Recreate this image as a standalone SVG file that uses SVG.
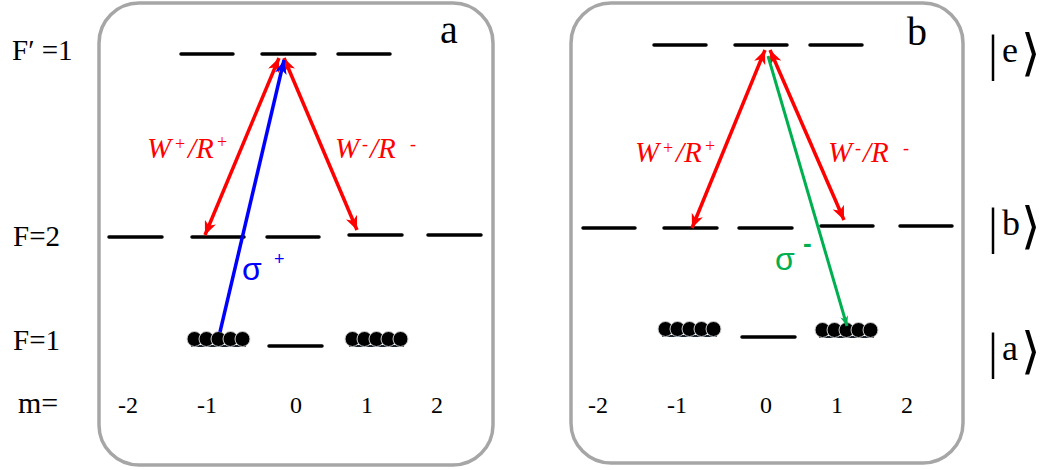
<svg xmlns="http://www.w3.org/2000/svg" width="1045" height="470" viewBox="0 0 1045 470">
<defs>
<style>
.panel{fill:#fff;stroke:#a6a6a6;stroke-width:3.5}
.lvl{stroke:#000;stroke-width:3.5;stroke-linecap:round}
.red{stroke:#ff0000;stroke-width:3.5;fill:none}
.blue{stroke:#0000ff;stroke-width:3.5;fill:none}
.green{stroke:#00b050;stroke-width:3;fill:none}
.atom{fill:#000;stroke:#d0d0d0;stroke-width:1}
.ul{stroke:#1a2530;stroke-width:2}
</style>
<marker id="hr" viewBox="0 0 14 12" refX="14" refY="6" markerWidth="14" markerHeight="12" markerUnits="userSpaceOnUse" orient="auto-start-reverse">
<path d="M0,0 L14,6 L0,12 L4,6 z" fill="#ff0000"/>
</marker>
<marker id="hb" viewBox="0 0 14 12" refX="14" refY="6" markerWidth="14" markerHeight="12" markerUnits="userSpaceOnUse" orient="auto">
<path d="M0,0 L14,6 L0,12 L4,6 z" fill="#0000ff"/>
</marker>
<marker id="hg" viewBox="0 0 10 8" refX="10" refY="4" markerWidth="10" markerHeight="8" markerUnits="userSpaceOnUse" orient="auto">
<path d="M0,0 L10,4 L0,8 L3,4 z" fill="#00b050"/>
</marker>
<g id="atoms">
<line class="ul" x1="4" y1="7" x2="59" y2="7"/>
<circle class="atom" cx="7.5" cy="0" r="7.5"/>
<circle class="atom" cx="19.5" cy="0" r="7.5"/>
<circle class="atom" cx="31.5" cy="0" r="7.5"/>
<circle class="atom" cx="43.5" cy="0" r="7.5"/>
<circle class="atom" cx="55.5" cy="0" r="7.5"/>
</g>
</defs>

<!-- Left side labels -->
<g id="labels-left" font-family="Liberation Serif, serif" fill="#000">
<text x="12" y="60" font-size="29">F′ =1</text>
<text x="13" y="246" font-size="29">F=2</text>
<text x="13" y="350" font-size="29">F=1</text>
<text x="18" y="413" font-size="30">m=</text>
</g>

<!-- Panel a -->
<g id="panel-a">
<rect class="panel" x="99" y="3" width="394" height="462" rx="40"/>
<text font-family="Liberation Serif, serif" x="440" y="43" font-size="40">a</text>
<g id="a-excited">
<line class="lvl" x1="181" y1="54" x2="233" y2="54"/>
<line class="lvl" x1="262" y1="54" x2="315" y2="54"/>
<line class="lvl" x1="338" y1="54" x2="390" y2="54"/>
</g>
<g id="a-F2">
<line class="lvl" x1="109" y1="237" x2="162" y2="237"/>
<line class="lvl" x1="192" y1="237" x2="244" y2="237"/>
<line class="lvl" x1="267" y1="237" x2="319" y2="237"/>
<line class="lvl" x1="349" y1="235" x2="402" y2="235"/>
<line class="lvl" x1="428" y1="235" x2="481" y2="235"/>
</g>
<g id="a-F1">
<use href="#atoms" x="187" y="339"/>
<line class="lvl" x1="269" y1="346" x2="322" y2="346"/>
<use href="#atoms" x="345" y="339"/>
</g>
<g id="a-m" font-family="Liberation Serif, serif" font-size="24">
<text x="118" y="413">-2</text>
<text x="197" y="413">-1</text>
<text x="290" y="413">0</text>
<text x="361" y="413">1</text>
<text x="431" y="413">2</text>
</g>
<g font-family="Liberation Serif, serif" fill="#ff0000" font-size="29" font-style="italic">
<text y="158"><tspan x="147">W</tspan><tspan font-style="normal" font-size="18" x="175" y="150">+</tspan><tspan x="188" y="158">/R</tspan><tspan font-style="normal" font-size="18" x="217" y="148">+</tspan></text>
<text y="158"><tspan x="335">W</tspan><tspan font-style="normal" font-size="18" x="362" y="150">-</tspan><tspan x="370" y="158">/R</tspan><tspan font-style="normal" font-size="18" x="410" y="150">-</tspan></text>
</g>
<text x="242" y="280" font-family="Liberation Sans, Arial, sans-serif" font-size="32" fill="#0000ff">σ</text>
<text x="274" y="265" font-family="Liberation Sans, Arial, sans-serif" font-size="18" fill="#0000ff">+</text>
</g>

<!-- Panel b -->
<g id="panel-b">
<rect class="panel" x="571" y="3" width="392" height="460" rx="40"/>
<text font-family="Liberation Serif, serif" x="907" y="45" font-size="40">b</text>
<g id="b-excited">
<line class="lvl" x1="654" y1="45" x2="706" y2="45"/>
<line class="lvl" x1="735" y1="45" x2="787" y2="45"/>
<line class="lvl" x1="810" y1="45" x2="862" y2="45"/>
</g>
<g id="b-F2">
<line class="lvl" x1="583" y1="228" x2="635" y2="228"/>
<line class="lvl" x1="664" y1="228" x2="717" y2="228"/>
<line class="lvl" x1="739" y1="228" x2="792" y2="228"/>
<line class="lvl" x1="821" y1="226" x2="873" y2="226"/>
<line class="lvl" x1="900" y1="226" x2="952" y2="226"/>
</g>
<g id="b-F1">
<use href="#atoms" x="658" y="329"/>
<line class="lvl" x1="742" y1="337" x2="795" y2="337"/>
<use href="#atoms" x="815" y="330"/>
</g>
<g id="b-m" font-family="Liberation Serif, serif" font-size="24">
<text x="588" y="413">-2</text>
<text x="667" y="413">-1</text>
<text x="760" y="413">0</text>
<text x="831" y="413">1</text>
<text x="901" y="413">2</text>
</g>
<g font-family="Liberation Serif, serif" fill="#ff0000" font-size="29" font-style="italic">
<text y="162"><tspan x="635">W</tspan><tspan font-style="normal" font-size="18" x="663" y="154">+</tspan><tspan x="676" y="162">/R</tspan><tspan font-style="normal" font-size="18" x="705" y="152">+</tspan></text>
<text y="162"><tspan x="828">W</tspan><tspan font-style="normal" font-size="18" x="855" y="154">-</tspan><tspan x="863" y="162">/R</tspan><tspan font-style="normal" font-size="18" x="903" y="154">-</tspan></text>
</g>
<text x="775" y="270" font-family="Liberation Sans, Arial, sans-serif" font-size="32" fill="#00b050">σ</text>
<text x="803" y="252" font-family="Liberation Sans, Arial, sans-serif" font-size="26" font-weight="bold" fill="#00b050">-</text>
</g>

<!-- Kets -->
<g id="ket-e" font-family="Liberation Serif, serif">
<text x="988" y="70" font-size="50">|</text>
<text x="1002" y="62" font-size="36">e</text>
<text x="1021" y="70" font-size="50" font-family="DejaVu Sans, sans-serif">⟩</text>
</g>
<g id="ket-b" font-family="Liberation Serif, serif">
<text x="988" y="243" font-size="50">|</text>
<text x="1002" y="235" font-size="36">b</text>
<text x="1021" y="243" font-size="50" font-family="DejaVu Sans, sans-serif">⟩</text>
</g>
<g id="ket-a" font-family="Liberation Serif, serif">
<text x="988" y="368" font-size="50">|</text>
<text x="1002" y="360" font-size="36">a</text>
<text x="1021" y="368" font-size="50" font-family="DejaVu Sans, sans-serif">⟩</text>
</g>

<!-- Connectors -->
<g id="connectors">
<line class="red" x1="279" y1="58" x2="205" y2="235" marker-start="url(#hr)" marker-end="url(#hr)"/>
<line class="red" x1="284" y1="58" x2="357" y2="230" marker-start="url(#hr)" marker-end="url(#hr)"/>
<line class="blue" x1="220" y1="332" x2="284" y2="60" marker-end="url(#hb)"/>
<line class="red" x1="765" y1="50" x2="692" y2="228" marker-start="url(#hr)" marker-end="url(#hr)"/>
<line class="red" x1="770" y1="50" x2="844" y2="220" marker-start="url(#hr)" marker-end="url(#hr)"/>
<line class="green" x1="768" y1="56" x2="847" y2="326" marker-end="url(#hg)"/>
</g>
</svg>
